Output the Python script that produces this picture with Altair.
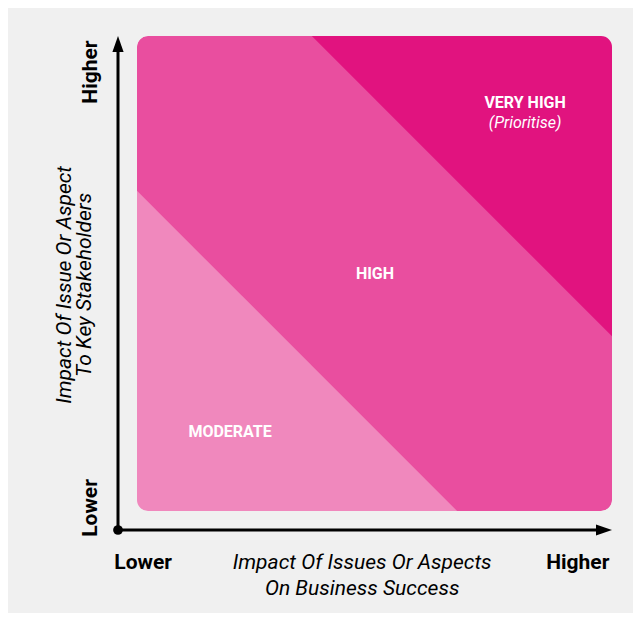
import altair as alt
import pandas as pd

# ---- data ----
zones = ["MODERATE", "HIGH", "VERY HIGH"]
zone_colors = ["#F088BD", "#E94E9F", "#E1137F"]
zone_note = "(Prioritise)"
# diagonal zone boundaries, expressed as u + v = limit (u, v in 0..1)
moderate_limit = 0.674
very_high_limit = 1.368

end_labels = ["Lower", "Higher"]
x_title = ["Impact Of Issues Or Aspects", "On Business Success"]
y_title = ["Impact Of Issue Or Aspect", "To Key Stakeholders"]

BG = "#F0F0F0"
FONT = "Roboto"

xs = alt.Scale(domain=[0, 1], range=[129, 604], zero=False, nice=False)
ys = alt.Scale(domain=[0, 1], range=[503, 28], zero=False, nice=False)


def X(f):
    return alt.X(f, type="quantitative", scale=xs, axis=None)


def Y(f):
    return alt.Y(f, type="quantitative", scale=ys, axis=None, stack=None)


# base square (HIGH)
base_df = pd.DataFrame({"u0": [0.0], "u1": [1.0], "v0": [0.0], "v1": [1.0]})
base = alt.Chart(base_df).mark_rect(cornerRadius=11, color=zone_colors[1]).encode(
    x=X("u0"), x2="u1", y=Y("v0"), y2="v1")

a = moderate_limit
b = very_high_limit
mod_df = pd.DataFrame({"u": [0.0, a], "lo": [0.0, 0.0], "hi": [a, 0.0]})
vh_df = pd.DataFrame({"u": [b - 1, 1.0], "lo": [1.0, b - 1], "hi": [1.0, 1.0]})

moderate = alt.Chart(mod_df).mark_area(color=zone_colors[0], interpolate="linear").encode(
    x=X("u"), y=Y("lo"), y2="hi")
very_high = alt.Chart(vh_df).mark_area(color=zone_colors[2], interpolate="linear").encode(
    x=X("u"), y=Y("lo"), y2="hi")

# rounded-corner mask
mask = alt.Chart(base_df).mark_rect(
    cornerRadius=16, fillOpacity=0, stroke=BG, strokeWidth=10,
    xOffset=-5, x2Offset=5, yOffset=5, y2Offset=-5).encode(
    x=X("u0"), x2="u1", y=Y("v0"), y2="v1")

# axes
ax0 = -0.04
axis_df = pd.DataFrame({"u": [ax0], "v": [ax0], "end": [1.0]})
vline = alt.Chart(axis_df).mark_rule(color="black", strokeWidth=3, y2Offset=10).encode(
    x=X("u"), y=Y("v"), y2="end")
hline = alt.Chart(axis_df).mark_rule(color="black", strokeWidth=3, x2Offset=-10).encode(
    y=Y("v"), x=X("u"), x2="end")
up_head = alt.Chart(axis_df).mark_point(
    shape="M0,-1L0.7,1L-0.7,1Z", size=256, filled=True, color="black", opacity=1, yOffset=8).encode(
    x=X("u"), y=Y("end"))
right_head = alt.Chart(axis_df).mark_point(
    shape="M1,0L-1,0.7L-1,-0.7Z", size=256, filled=True, color="black", opacity=1, xOffset=-8).encode(
    x=X("end"), y=Y("v"))
dot = alt.Chart(axis_df).mark_circle(size=95, color="black", opacity=1).encode(
    x=X("u"), y=Y("v"))


def text_layer(rows, **kw):
    df = pd.DataFrame(rows, columns=["u", "v", "t"])
    return alt.Chart(df).mark_text(font=FONT, baseline="middle", align="center", **kw).encode(
        x=X("u"), y=Y("v"), text="t:N")


zone_text = text_layer(
    [[0.817, 0.859, zones[2]], [0.501, 0.499, zones[1]], [0.196, 0.166, zones[0]]],
    fontSize=16, fontWeight="bold", color="white")
note_text = text_layer([[0.817, 0.817, zone_note]], fontSize=16, fontStyle="italic", color="white")

y_end = text_layer([[-0.097, 0.0063, end_labels[0]], [-0.097, 0.924, end_labels[1]]],
                   fontSize=21, fontWeight="bold", color="black", angle=270)
x_end = text_layer([[0.013, -0.1095, end_labels[0]], [0.928, -0.1095, end_labels[1]]],
                   fontSize=21, fontWeight="bold", color="black")
x_tt = text_layer([[0.474, -0.1095, x_title[0]], [0.474, -0.164, x_title[1]]],
                  fontSize=21, fontStyle="italic", color="black")
y_tt = text_layer([[-0.152, 0.476, y_title[0]], [-0.109, 0.476, y_title[1]]],
                  fontSize=21, fontStyle="italic", color="black", angle=270)

chart = alt.layer(
    base, moderate, very_high, mask, vline, hline, up_head, right_head, dot,
    zone_text, note_text, y_end, x_end, x_tt, y_tt
).properties(
    width=625, height=605, background=BG, padding=0,
    autosize=alt.AutoSizeParams(type="none")
).configure_view(stroke=None)

chart.save("out.html", embed_options={"renderer": "svg", "actions": False})
